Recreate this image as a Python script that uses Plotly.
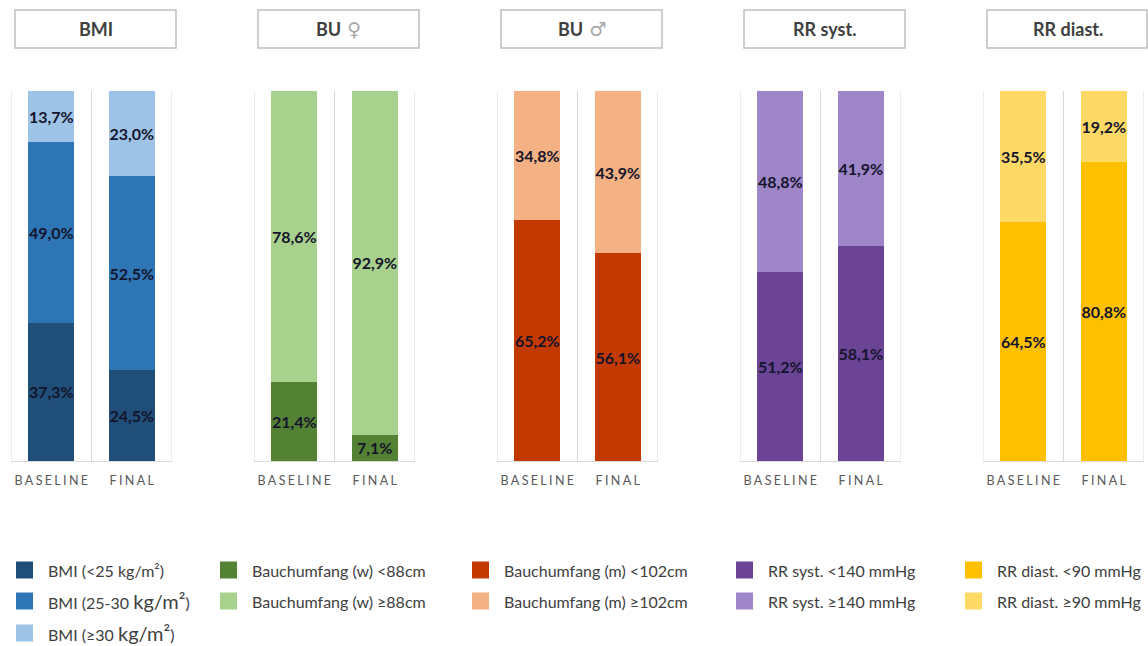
import plotly.graph_objects as go

# ---------------- data ----------------
categories = ["BASELINE", "FINAL"]
panel_titles = ["BMI", "BU \u2640", "BU \u2642", "RR syst.", "RR diast."]

bmi_lt25 = [37.3, 24.5]
bmi_25_30 = [49.0, 52.5]
bmi_ge30 = [13.7, 23.0]
buw_lt88 = [21.4, 7.1]
buw_ge88 = [78.6, 92.9]
bum_lt102 = [65.2, 56.1]
bum_ge102 = [34.8, 43.9]
rrs_lt140 = [51.2, 58.1]
rrs_ge140 = [48.8, 41.9]
rrd_lt90 = [64.5, 80.8]
rrd_ge90 = [35.5, 19.2]

series_names = [
    ["BMI (<25 kg/m\u00b2)", "BMI (25-30 kg/m\u00b2)", "BMI (\u226530 kg/m\u00b2)"],
    ["Bauchumfang (w) <88cm", "Bauchumfang (w) \u226588cm"],
    ["Bauchumfang (m) <102cm", "Bauchumfang (m) \u2265102cm"],
    ["RR syst. <140 mmHg", "RR syst. \u2265140 mmHg"],
    ["RR diast. <90 mmHg", "RR diast. \u226590 mmHg"],
]
legend_labels = [
    ["BMI (<25 kg/m\u00b2)",
     "BMI (25-30 <span style='font-size:20px'>kg/m\u00b2</span>)",
     "BMI (\u226530 <span style='font-size:20px'>kg/m\u00b2</span>)"],
    ["Bauchumfang (w) <88cm", "Bauchumfang (w) \u226588cm"],
    ["Bauchumfang (m) <102cm", "Bauchumfang (m) \u2265102cm"],
    ["RR syst. <140 mmHg", "RR syst. \u2265140 mmHg"],
    ["RR diast. <90 mmHg", "RR diast. \u226590 mmHg"],
]
series_values = [
    [bmi_lt25, bmi_25_30, bmi_ge30],
    [buw_lt88, buw_ge88],
    [bum_lt102, bum_ge102],
    [rrs_lt140, rrs_ge140],
    [rrd_lt90, rrd_ge90],
]
series_colors = [
    ["#1F4E79", "#2E75B6", "#9DC3E6"],
    ["#548235", "#A9D18E"],
    ["#C33A00", "#F4B183"],
    ["#6B4496", "#9E86C8"],
    ["#FFC000", "#FFD966"],
]

# ---------------- layout geometry ----------------
W, H = 1148, 646
FONT = "Lato"
panel_left_px = [11, 254, 497, 740, 983]
panel_w_px = 161
plot_top_px, plot_bot_px = 91, 461


def px_x(p):
    return p / W


def px_y(p):
    return 1 - p / H


def spaced(s):
    return "\u2009\u200a".join(list(s))


tick_cats = [spaced(c) for c in categories]

fig = go.Figure()
for i, (vals_list, names, colors) in enumerate(zip(series_values, series_names, series_colors)):
    ax = "" if i == 0 else str(i + 1)
    for vals, name, col in zip(vals_list, names, colors):
        fig.add_trace(go.Bar(
            x=tick_cats, y=vals, name=name,
            marker=dict(color=col, line=dict(width=0)),
            width=0.57,
            text=[f"{v:.1f}%".replace(".", ",") for v in vals],
            textposition="inside", insidetextanchor="middle",
            textangle=0, constraintext="none",
            textfont=dict(family=FONT, size=16, color="#14142B", weight="bold"),
            xaxis="x" + ax, yaxis="y" + ax,
            showlegend=False, hoverinfo="skip", cliponaxis=False,
        ))

layout = dict(
    width=W, height=H,
    margin=dict(l=0, r=0, t=0, b=0),
    paper_bgcolor="white", plot_bgcolor="white",
    barmode="stack", bargap=0.43,
    font=dict(family=FONT),
    shapes=[], annotations=[],
)

for i in range(5):
    ax = "" if i == 0 else str(i + 1)
    x0 = px_x(panel_left_px[i])
    x1 = px_x(panel_left_px[i] + panel_w_px)
    layout["xaxis" + ax] = dict(
        domain=[x0, x1], type="category", anchor="y" + ax,
        range=[-0.5, 1.5], showgrid=False,
        showline=True, linecolor="#D9D9D9", linewidth=1,
        ticks="", ticklabelstandoff=8,
        tickfont=dict(family=FONT, size=12.5, color="#595959"),
        fixedrange=True,
    )
    layout["yaxis" + ax] = dict(
        domain=[px_y(plot_bot_px), px_y(plot_top_px)], range=[0, 100],
        anchor="x" + ax, showgrid=False, showticklabels=False,
        zeroline=False, showline=False, fixedrange=True,
    )
    # category boundary gridlines
    for b in (-0.5, 0.5, 1.5):
        layout["shapes"].append(dict(
            type="line", xref="x" + ax, yref="y" + ax,
            x0=b, x1=b, y0=0, y1=100, layer="below",
            line=dict(color="#D9D9D9", width=1),
        ))
    # title boxes
    bx0 = panel_left_px[i] + 4
    bx1 = bx0 + 161
    layout["shapes"].append(dict(
        type="rect", xref="paper", yref="paper",
        x0=px_x(bx0), x1=px_x(min(bx1, W - 1)), y0=px_y(48), y1=px_y(10),
        line=dict(color="#BFBFBF", width=1.5), fillcolor="white",
    ))
    title = panel_titles[i]
    if "\u2640" in title or "\u2642" in title:
        base, sym = title.split(" ")
        title = (f"<b>{base}</b><span style='color:#A6A6A6;font-weight:normal;"
                 f"font-family:\"DejaVu Sans\";font-size:19px'> {sym}</span>")
    else:
        title = f"<b>{title}</b>"
    layout["annotations"].append(dict(
        xref="paper", yref="paper", x=px_x((bx0 + bx1) / 2), y=px_y(29),
        text=title, showarrow=False, xanchor="center", yanchor="middle",
        font=dict(family=FONT, size=18, color="#404040"),
    ))

# legend (custom layout of swatches + labels)
legend_swatch_x = [16, 220, 472, 736, 965]
legend_rows_y = [570, 601, 633]
for i in range(5):
    for j, (lab, col) in enumerate(zip(legend_labels[i], series_colors[i])):
        sx = legend_swatch_x[i]
        cy = legend_rows_y[j]
        layout["shapes"].append(dict(
            type="rect", xref="paper", yref="paper",
            x0=px_x(sx), x1=px_x(sx + 17), y0=px_y(cy + 8.5), y1=px_y(cy - 8.5),
            line=dict(width=0), fillcolor=col,
        ))
        layout["annotations"].append(dict(
            xref="paper", yref="paper", x=px_x(sx + 30), y=px_y(cy),
            text=lab, showarrow=False, xanchor="left", yanchor="middle",
            font=dict(family=FONT, size=16, color="#404040"),
        ))

fig.update_layout(**layout)
fig.write_html("out.html")
